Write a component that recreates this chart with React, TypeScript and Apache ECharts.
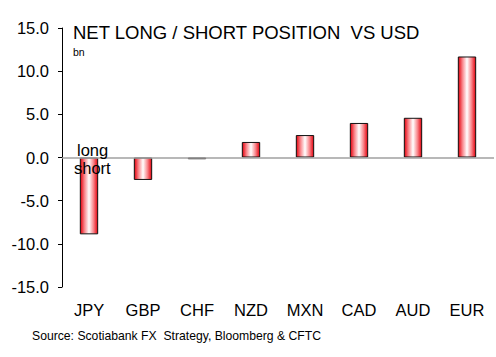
import React, { useEffect, useRef } from "react";
import * as echarts from "echarts";

const categories = ["JPY", "GBP", "CHF", "NZD", "MXN", "CAD", "AUD", "EUR"];
const positions = [-8.9, -2.6, -0.2, 1.8, 2.6, 4.0, 4.6, 11.7];
const yTicks = { min: -15, max: 15, interval: 5 };
const titleText = "NET LONG / SHORT POSITION  VS USD";
const unitText = "bn";
const sourceText = "Source: Scotiabank FX  Strategy, Bloomberg & CFTC";

export default function App() {
  const ref = useRef<HTMLDivElement>(null);
  useEffect(() => {
    const chart = echarts.init(ref.current!, null, { renderer: "svg" });
    const font = "'Liberation Sans', Arial, sans-serif";
    const barColor = new echarts.graphic.LinearGradient(0, 0, 1, 0, [
      { offset: 0, color: "#e4000c" },
      { offset: 0.25, color: "#f98a8f" },
      { offset: 0.5, color: "#ffffff" },
      { offset: 0.75, color: "#f98a8f" },
      { offset: 1, color: "#e4000c" },
    ]);
    chart.setOption({
      animation: false,
      backgroundColor: "#ffffff",
      textStyle: { fontFamily: font },
      grid: { left: 62, right: 2, top: 28, bottom: 70 },
      xAxis: {
        type: "category",
        data: categories,
        axisLine: { show: false, onZero: false },
        axisTick: { show: false },
        axisLabel: { color: "#000", fontSize: 16.5, margin: 14, fontFamily: font },
      },
      yAxis: {
        type: "value",
        min: yTicks.min,
        max: yTicks.max,
        interval: yTicks.interval,
        splitLine: { show: false },
        axisLine: { show: true, lineStyle: { color: "#000", width: 1 } },
        axisTick: { show: true, length: 4, lineStyle: { color: "#000" } },
        axisLabel: {
          color: "#000",
          fontSize: 16.5,
          margin: 13,
          fontFamily: font,
          formatter: (v: number) => v.toFixed(1),
        },
      },
      series: [
        {
          type: "bar",
          data: positions,
          barWidth: "34%",
          itemStyle: { color: barColor, borderColor: "#111", borderWidth: 1 },
          markLine: {
            silent: true,
            symbol: "none",
            label: { show: false },
            lineStyle: { color: "#a0a0a0", type: "solid", width: 1.5 },
            data: [{ yAxis: 0 }],
          },
          z: 3,
        },
      ],
      graphic: [
        {
          type: "text",
          left: 73,
          top: 23,
          style: { text: titleText, fontSize: 18.5, fill: "#000", fontFamily: font },
        },
        {
          type: "text",
          left: 73,
          top: 46,
          style: { text: unitText, fontSize: 10.5, fill: "#000", fontFamily: font },
        },
        {
          type: "text",
          left: 77,
          top: 141,
          z: 10,
          style: { text: "long", fontSize: 16.5, fill: "#000", fontFamily: font },
        },
        {
          type: "text",
          left: 74,
          top: 159,
          z: 10,
          style: { text: "short", fontSize: 16.5, fill: "#000", fontFamily: font },
        },
        {
          type: "text",
          left: 32,
          top: 330,
          style: { text: sourceText, fontSize: 12.2, fill: "#000", fontFamily: font },
        },
      ],
    });
    return () => chart.dispose();
  }, []);
  return <div ref={ref} style={{ width: 496, height: 357, position: "fixed", left: 0, top: 0 }} />;
}
